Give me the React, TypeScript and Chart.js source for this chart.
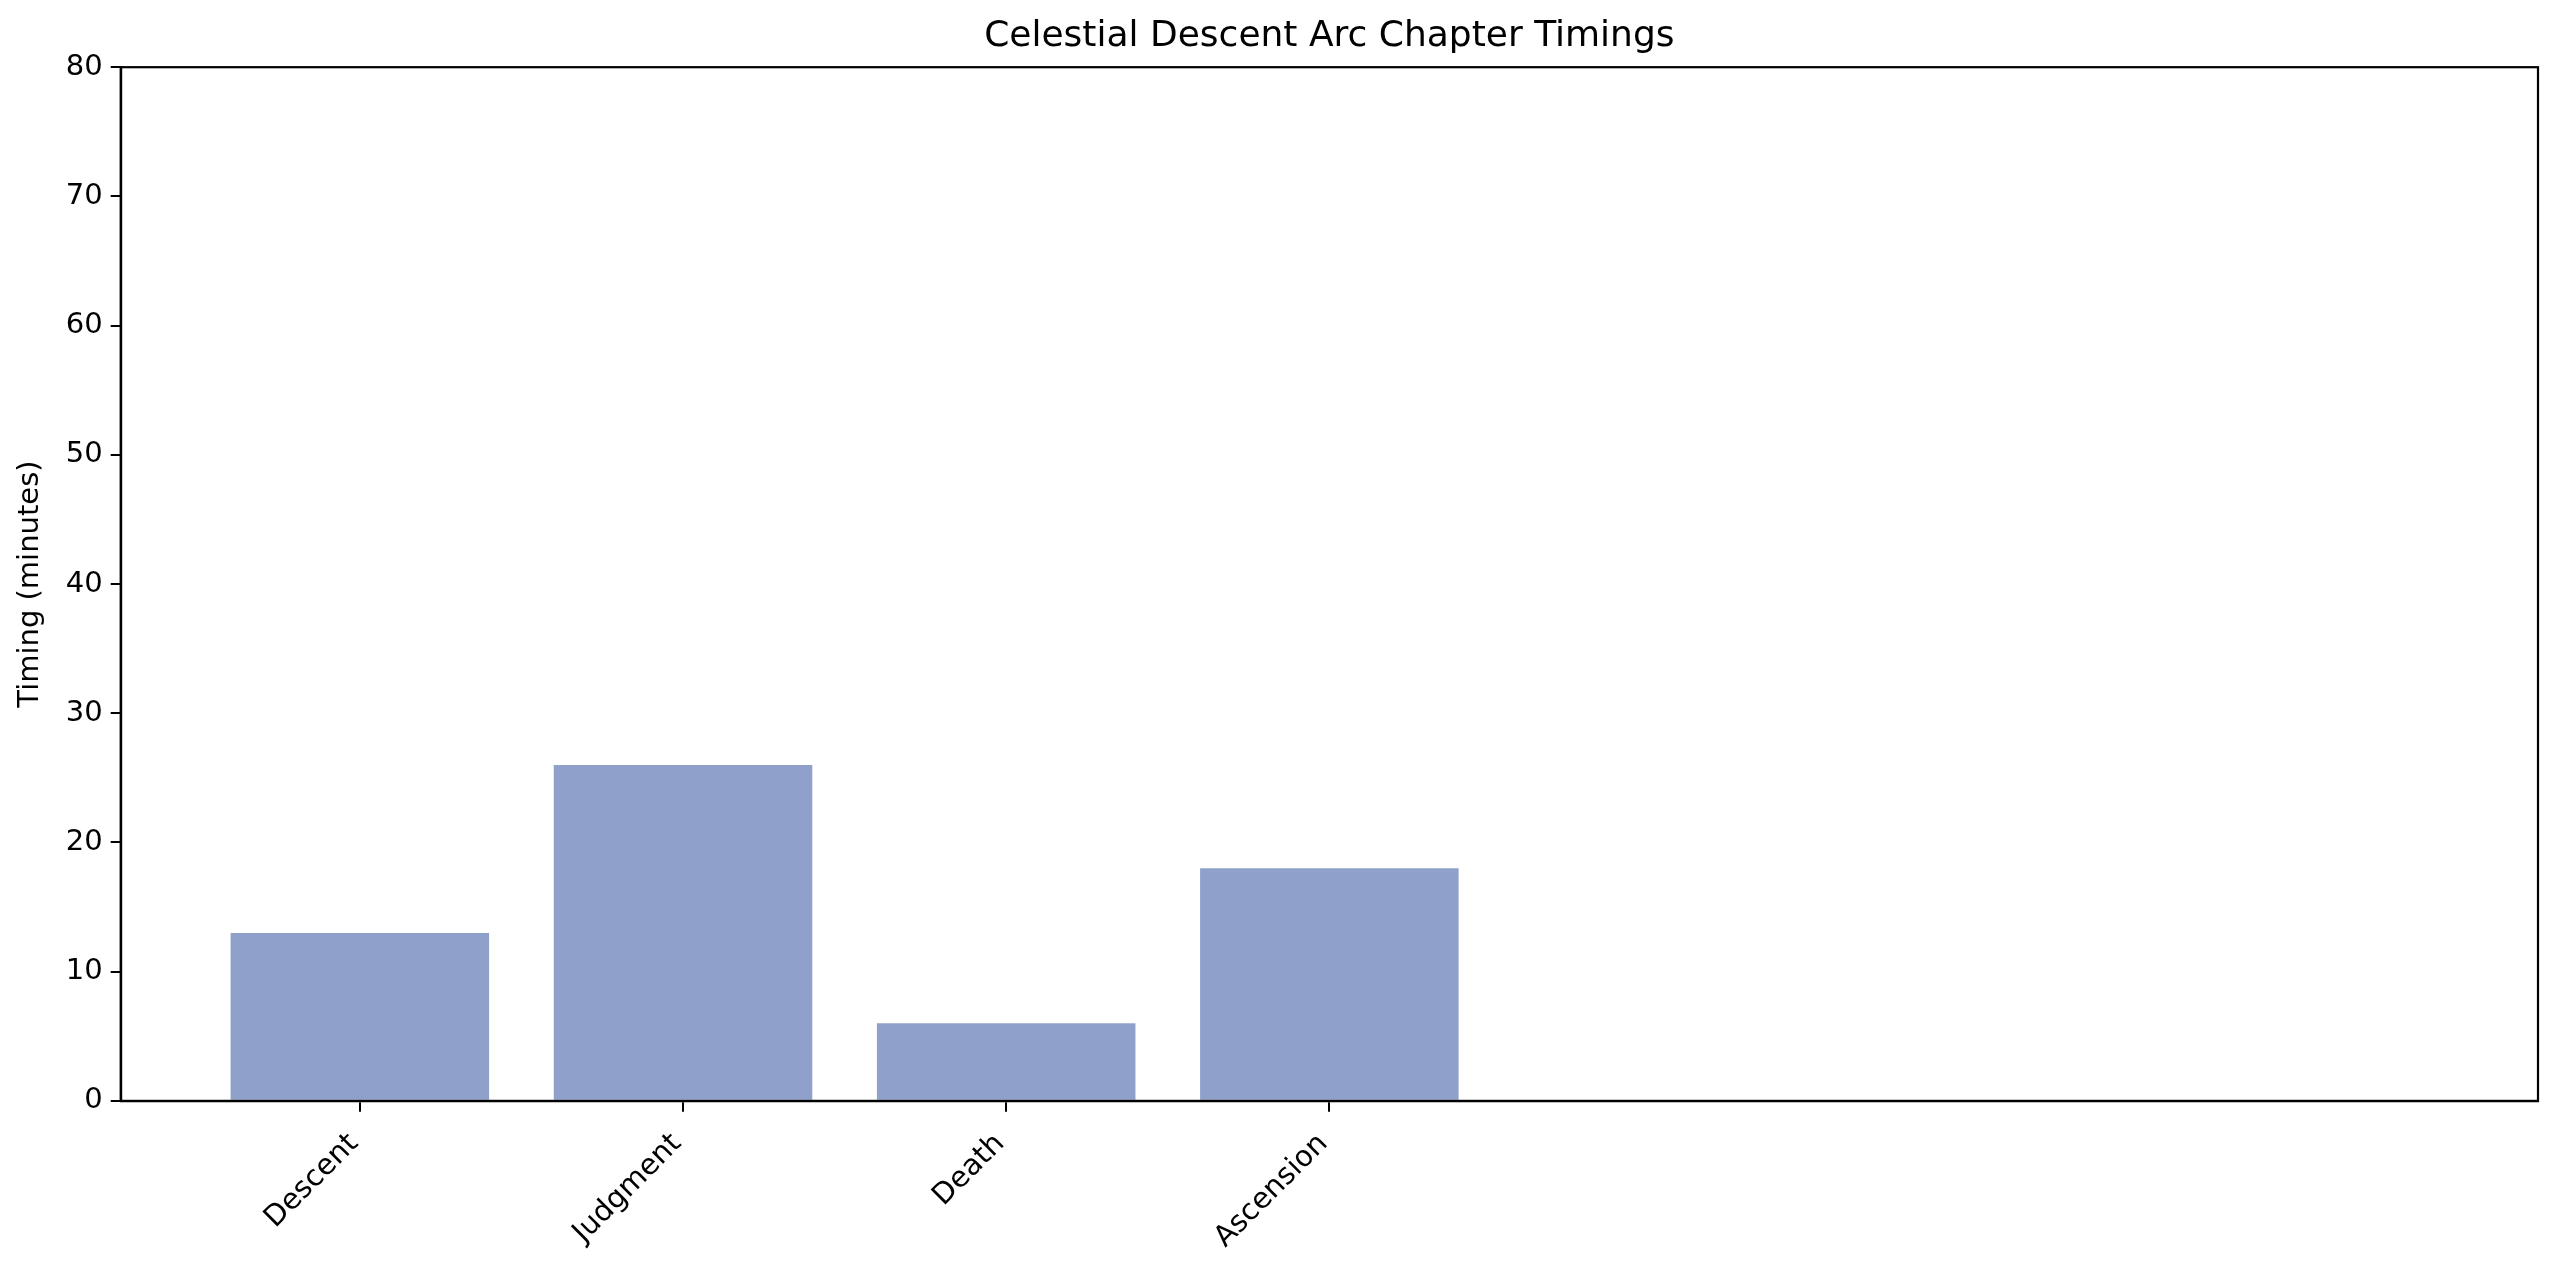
import { useEffect, useRef } from "react";
import { Chart, registerables, type ChartOptions, type Plugin } from "chart.js";

Chart.register(...registerables);

const chapters = ["Descent", "Judgment", "Death", "Ascension"];
const timings = [13, 26, 6, 18];
const yTicks = [0, 10, 20, 30, 40, 50, 60, 70, 80];

const FONT = "'DejaVu Sans', sans-serif";

// closes the box on the top and right like a matplotlib axes frame
const frame: Plugin<"bar"> = {
  id: "frame",
  afterDraw(chart) {
    const { ctx, chartArea } = chart;
    ctx.save();
    ctx.strokeStyle = "#000";
    ctx.lineWidth = 2.2;
    ctx.strokeRect(chartArea.left, chartArea.top, chartArea.right - chartArea.left, chartArea.bottom - chartArea.top);
    ctx.restore();
  },
};

export default function App() {
  const canvasRef = useRef<HTMLCanvasElement>(null);

  useEffect(() => {
    document.body.style.margin = "0";
    if (!canvasRef.current) return;

    const options: ChartOptions<"bar"> = {
      responsive: false,
      animation: false,
      devicePixelRatio: 1,
      layout: { padding: { top: 6, right: 22, left: 13, bottom: -2 } },
      plugins: {
        legend: { display: false },
        tooltip: { enabled: false },
        title: {
          display: true,
          text: "Celestial Descent Arc Chapter Timings",
          color: "#000",
          fullSize: false,
          font: { family: FONT, size: 36, weight: "normal" },
          padding: { top: 9, bottom: 9 },
        },
      },
      scales: {
        x: {
          type: "linear",
          min: -0.74,
          max: 6.74,
          offset: false,
          afterBuildTicks: (scale) => {
            scale.ticks = chapters.map((_, i) => ({ value: i }));
          },
          grid: { display: true, offset: false, drawOnChartArea: false, drawTicks: true, tickLength: 11, color: "#000", lineWidth: 2 },
          border: { display: true, color: "#000", width: 2.2 },
          ticks: {
            color: "#000",
            font: { family: FONT, size: 29 },
            maxRotation: 45,
            minRotation: 45,
            autoSkip: false,
            padding: 15,
            labelOffset: -6,
            callback: (value) => chapters[Number(value)] ?? "",
          },
        },
        y: {
          min: 0,
          max: 80,
          afterBuildTicks: (scale) => {
            scale.ticks = yTicks.map((v) => ({ value: v }));
          },
          grid: { display: true, drawOnChartArea: false, drawTicks: true, tickLength: 10, color: "#000", lineWidth: 2 },
          border: { display: true, color: "#000", width: 2.2 },
          ticks: { color: "#000", font: { family: FONT, size: 29 }, padding: 8 },
          title: {
            display: true,
            text: "Timing (minutes)",
            color: "#000",
            font: { family: FONT, size: 29 },
            padding: { top: 0, bottom: 10 },
          },
        },
      },
    };

    const chart = new Chart(canvasRef.current, {
      type: "bar",
      data: {
        datasets: [
          {
            data: timings.map((v, i) => ({ x: i, y: v })),
            backgroundColor: "rgb(143, 161, 203)",
            borderWidth: 0,
            barPercentage: 0.8,
            categoryPercentage: 1,
          },
        ],
      },
      options,
      plugins: [frame],
    });

    return () => {
      chart.destroy();
    };
  }, []);

  return (
    <div style={{ width: 2560, height: 1268, background: "#fff" }}>
      <canvas ref={canvasRef} width={2560} height={1268} style={{ width: 2560, height: 1268 }} />
    </div>
  );
}
